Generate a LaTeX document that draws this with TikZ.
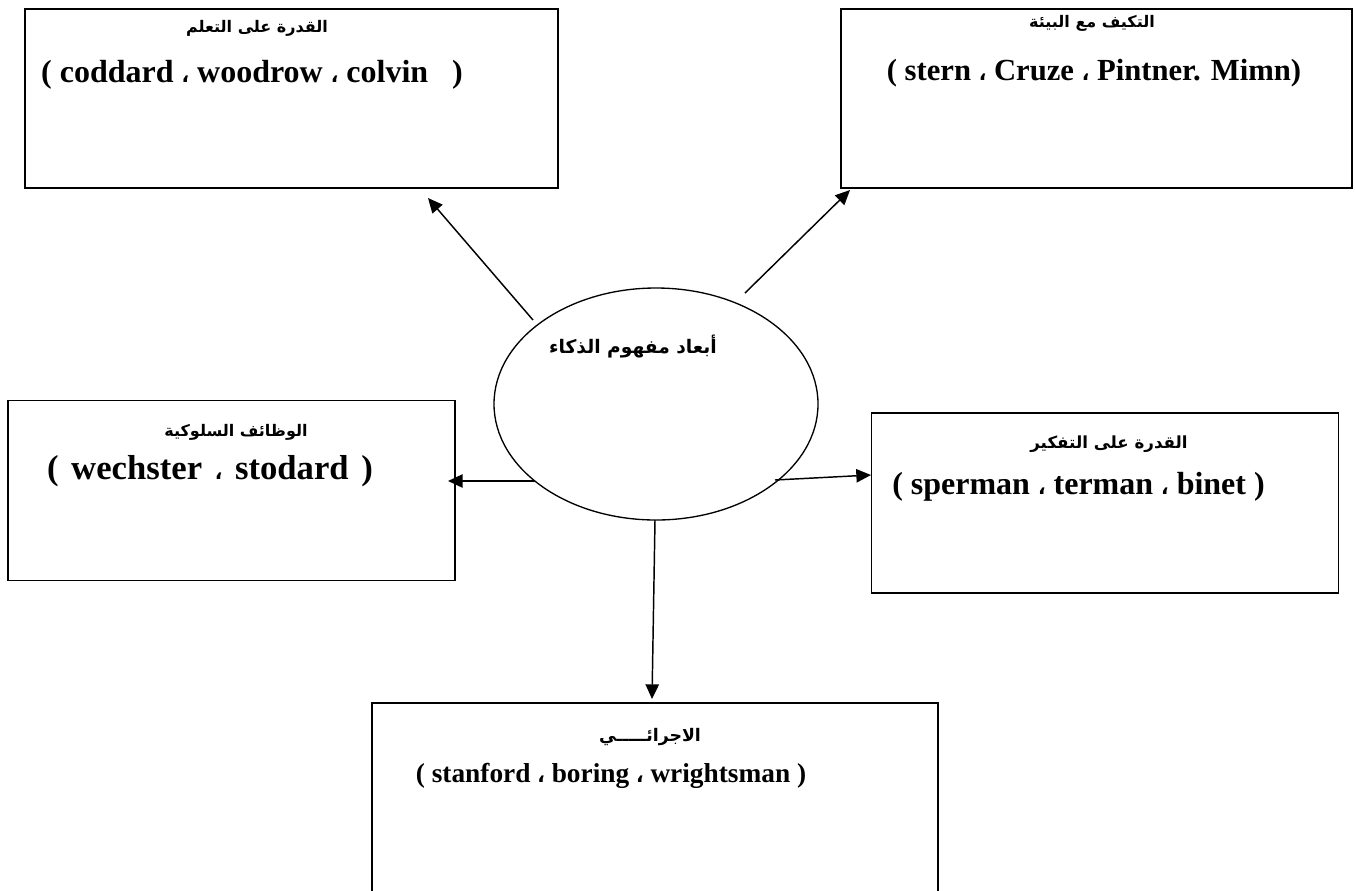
\documentclass[tikz,border=0pt]{standalone}
\usepackage{fontspec}
\setmainfont{Liberation Serif}
\newfontfamily\arabicfont[Script=Arabic]{DejaVu Sans}
\TeXXeTstate=1
\usetikzlibrary{arrows.meta,shapes.geometric}
\newcommand{\acm}{{\arabicfont\fontsize{15pt}{15pt}\selectfont ،}}
\tikzset{
  box/.style={draw, line width=1.4pt, rectangle, inner sep=0pt},
  ar/.style={font=\arabicfont\bfseries\fontsize{12pt}{14pt}\selectfont, inner sep=0pt},
  en/.style={font=\bfseries\fontsize{24pt}{26pt}\selectfont, inner sep=0pt},
  conn/.style={line width=1.1pt, -{Triangle[length=11pt,width=10pt]}}
}
\begin{document}
\begin{tikzpicture}[x=0.75pt,y=-0.75pt]
\useasboundingbox (0,0) rectangle (1355,890);
% boxes
\node[box, minimum width=399.75pt, minimum height=134.25pt] (b1) at (291.5,98.5) {};
\node[box, minimum width=383.25pt, minimum height=134.25pt] (b2) at (1096.5,98.5) {};
\node[box, minimum width=335.25pt, minimum height=135pt] (b3) at (231.5,490.5) {};
\node[box, minimum width=350.25pt, minimum height=135pt] (b4) at (1105,503) {};
\node[box, minimum width=424.5pt, minimum height=147.75pt] (b5) at (655,801.5) {};
% ellipse
\node[draw, line width=1pt, ellipse, minimum width=243pt, minimum height=174pt, inner sep=0pt] (ell) at (656,404) {};
% texts
\node[ar] (t1a) at (257,28) {\beginR القدرة على التعلم\endR};
\node[en] (t1b) at (252,75) {( coddard \acm{} woodrow \acm{} colvin \ \ )};
\node[ar] (t2a) at (1092,23) {\beginR التكيف مع البيئة\endR};
\node[en, font=\bfseries\fontsize{23pt}{26pt}\selectfont] (t2b) at (1094,73) {( stern \acm{} Cruze \acm{} Pintner. Mimn)};
\node[ar] (t3a) at (236,432) {\beginR الوظائف السلوكية\endR};
\node[en, font=\bfseries\fontsize{26pt}{28pt}\selectfont] (t3b) at (210,471) {(\hspace{3pt} wechster \hspace{3pt}\acm{}\hspace{3pt} stodard \hspace{3pt})};
\node[ar, font=\arabicfont\bfseries\fontsize{12.5pt}{14pt}\selectfont] (t4a) at (1109,444) {\beginR القدرة على التفكير\endR};
\node[en, anchor=west] (t4b) at (892,487) {( sperman \acm{} terman \acm{} binet )};
\node[ar, font=\arabicfont\bfseries\fontsize{13pt}{15pt}\selectfont] (t5a) at (650,737) {\beginR الاجرائـــــي\endR};
\node[en, font=\bfseries\fontsize{20.5pt}{24pt}\selectfont] (t5b) at (611,776) {( stanford \acm{} boring \acm{} wrightsman )};
\node[font=\arabicfont\bfseries\fontsize{14pt}{16pt}\selectfont, inner sep=0pt] (te) at (633,347) {\beginR أبعاد مفهوم الذكاء\endR};
% connectors
\coordinate (a1s) at (533,320); \coordinate (a1e) at (428,198);
\coordinate (a2s) at (745,293); \coordinate (a2e) at (850,190);
\coordinate (a3s) at (535,481); \coordinate (a3e) at (448,481);
\coordinate (a4s) at (775,480); \coordinate (a4e) at (871,475);
\coordinate (a5s) at (655,520); \coordinate (a5e) at (652,699);
\draw[conn] (a1s) -- (a1e);
\draw[conn] (a2s) -- (a2e);
\draw[conn] (a3s) -- (a3e);
\draw[conn] (a4s) -- (a4e);
\draw[conn] (a5s) -- (a5e);
\end{tikzpicture}
\end{document}
